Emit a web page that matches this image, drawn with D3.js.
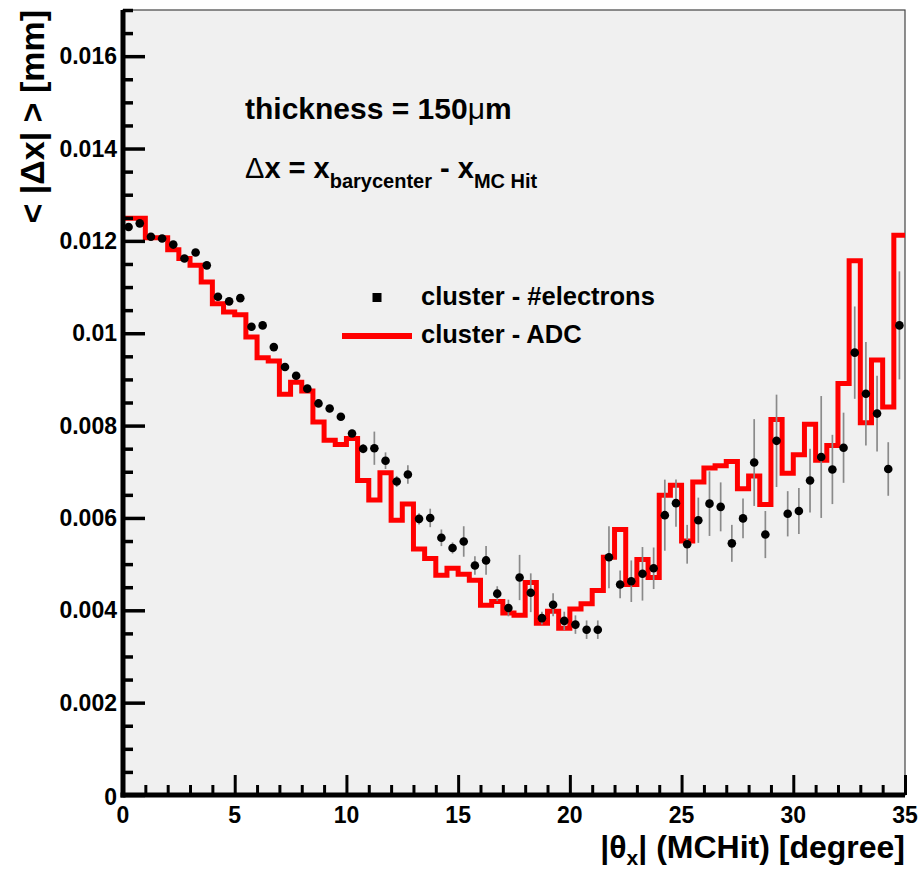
<!DOCTYPE html>
<html>
<head>
<meta charset="utf-8">
<script src="https://cdn.jsdelivr.net/npm/d3@7"></script>
<style>
  body { margin: 0; background: #fff; }
  text { font-family: "Liberation Sans", Arial, sans-serif; font-weight: bold; fill: #000; }
</style>
</head>
<body>
<div class="chart-container"></div>
<script>
// theta bins: 0 .. 35 degree, 0.5 degree wide
let binWidth = 0.5
let nBins = 70

// <|dx|> for cluster - #electrons (points with errors)
let electrons = [
    0.01230, 0.01238, 0.01209, 0.01205, 0.01192, 0.01162, 0.01175, 0.01147, 0.01079, 0.01069,
    0.01076, 0.01014, 0.01017, 0.00970, 0.00927, 0.00908, 0.00880, 0.00848, 0.00837, 0.00819,
    0.00783, 0.00750, 0.00751, 0.00724, 0.00679, 0.00694, 0.00598, 0.00600, 0.00557, 0.00535,
    0.00549, 0.00497, 0.00508, 0.00436, 0.00405, 0.00471, 0.00438, 0.00383, 0.00412, 0.00377,
    0.00369, 0.00358, 0.00358, 0.00515, 0.00456, 0.00463, 0.00479, 0.00491, 0.00606, 0.00632,
    0.00543, 0.00595, 0.00631, 0.00624, 0.00545, 0.00599, 0.00720, 0.00564, 0.00767, 0.00609,
    0.00615, 0.00681, 0.00732, 0.00705, 0.00752, 0.00958, 0.00869, 0.00826, 0.00706, 0.01017
]

let electronErrors = [
    0.00005, 0.00005, 0.00005, 0.00005, 0.00005, 0.00005, 0.00005, 0.00005, 0.00005, 0.00005,
    0.00005, 0.00008, 0.00008, 0.00008, 0.00008, 0.00008, 0.00008, 0.00008, 0.00008, 0.00008,
    0.00008, 0.00010, 0.00036, 0.00018, 0.00012, 0.00020, 0.00012, 0.00020, 0.00018, 0.00012,
    0.00033, 0.00020, 0.00031, 0.00016, 0.00018, 0.00049, 0.00042, 0.00014, 0.00025, 0.00020,
    0.00020, 0.00020, 0.00020, 0.00067, 0.00030, 0.00045, 0.00058, 0.00045, 0.00077, 0.00051,
    0.00042, 0.00049, 0.00070, 0.00053, 0.00040, 0.00043, 0.00094, 0.00051, 0.00100, 0.00049,
    0.00050, 0.00069, 0.00132, 0.00075, 0.00076, 0.00100, 0.00112, 0.00082, 0.00058, 0.00117
]

// <|dx|> for cluster - ADC (histogram)
let adc = [
    0.01249, 0.01249, 0.01207, 0.01207, 0.01181, 0.01162, 0.01147, 0.01111, 0.01064, 0.01046,
    0.01040, 0.00992, 0.00947, 0.00940, 0.00868, 0.00894, 0.00875, 0.00808, 0.00768, 0.00759,
    0.00772, 0.00681, 0.00639, 0.00698, 0.00595, 0.00630, 0.00533, 0.00512, 0.00476, 0.00491,
    0.00478, 0.00465, 0.00411, 0.00419, 0.00394, 0.00389, 0.00460, 0.00372, 0.00398, 0.00361,
    0.00403, 0.00414, 0.00443, 0.00515, 0.00575, 0.00456, 0.00510, 0.00471, 0.00649, 0.00671,
    0.00550, 0.00678, 0.00708, 0.00713, 0.00722, 0.00663, 0.00691, 0.00629, 0.00813, 0.00697,
    0.00737, 0.00803, 0.00725, 0.00757, 0.00891, 0.01157, 0.00806, 0.00942, 0.00840, 0.01212
]

let xTicks = [0, 5, 10, 15, 20, 25, 30, 35]
let yTicks = [0, 0.002, 0.004, 0.006, 0.008, 0.01, 0.012, 0.014, 0.016]
let yTickLabels = ["0", "0.002", "0.004", "0.006", "0.008", "0.01", "0.012", "0.014", "0.016"]
let legendLabels = ["cluster - #electrons", "cluster - ADC"]

// Margin Convention
const margin = { top: 10, right: 14, bottom: 74, left: 123 }
const width = 919 - margin.left - margin.right
const height = 869 - margin.top - margin.bottom

const xScale = d3.scaleLinear().domain([0, 35]).range([0, width])
const yScale = d3.scaleLinear().domain([0, 0.017]).range([height, 0])

const svg = d3.select('.chart-container')
    .append('svg')
    .attr('width', 919)
    .attr('height', 869)

const g = svg.append('g')
    .attr('transform', `translate(${margin.left}, ${margin.top})`)

// frame
g.append('rect')
    .attr('width', width)
    .attr('height', height)
    .attr('fill', '#f0f0f0')
    .attr('stroke', '#444')
    .attr('stroke-width', 1.2)

g.append('clipPath').attr('id', 'clip')
    .append('rect').attr('width', width).attr('height', height)

// data prep
const bins = d3.range(nBins).map(i => ({
    lo: i * binWidth,
    hi: (i + 1) * binWidth,
    mid: (i + 0.5) * binWidth,
    el: electrons[i],
    err: electronErrors[i],
    adc: adc[i]
}))

// ADC histogram as a step outline
const stepPts = []
bins.forEach(d => {
    stepPts.push([d.lo, d.adc])
    stepPts.push([d.hi, d.adc])
})

const line = d3.line()
    .x(d => xScale(d[0]))
    .y(d => yScale(d[1]))

g.append('path')
    .datum(stepPts)
    .attr('clip-path', 'url(#clip)')
    .attr('d', line)
    .attr('fill', 'none')
    .attr('stroke', '#ff0000')
    .attr('stroke-width', 5)
    .attr('stroke-linejoin', 'miter')

// electrons: error bars + markers
const pts = g.append('g').attr('class', 'points')

pts.selectAll('.err')
    .data(bins)
    .join('line')
    .attr('class', 'err')
    .attr('x1', d => xScale(d.mid))
    .attr('x2', d => xScale(d.mid))
    .attr('y1', d => yScale(d.el - d.err))
    .attr('y2', d => yScale(d.el + d.err))
    .attr('stroke', '#8a8a8a')
    .attr('stroke-width', 1.7)

pts.selectAll('.dot')
    .data(bins)
    .join('circle')
    .attr('class', 'dot')
    .attr('cx', d => xScale(d.mid))
    .attr('cy', d => yScale(d.el))
    .attr('r', 4.3)
    .attr('fill', '#000')

// Axes (ROOT style: ticks inside)
const xAxis = d3.axisTop(xScale)
    .tickValues(d3.range(0, 36, 1))
    .tickFormat('')
    .tickSizeInner(0)
    .tickSizeOuter(0)

const xAxisDraw = g.append('g')
    .attr('class', 'x axis')
    .attr('transform', `translate(0, ${height})`)
    .call(xAxis)

xAxisDraw.selectAll('.tick line')
    .attr('y2', d => (d % 5 === 0 ? -20 : -10))
    .attr('stroke', '#000')
    .attr('stroke-width', 3)
xAxisDraw.select('.domain').remove()

const yAxis = d3.axisRight(yScale)
    .tickValues(d3.range(0, 0.0171, 0.0005))
    .tickFormat('')
    .tickSizeInner(0)
    .tickSizeOuter(0)

const yAxisDraw = g.append('g')
    .attr('class', 'y axis')
    .call(yAxis)

yAxisDraw.selectAll('.tick line')
    .attr('x2', d => (Math.round(d * 10000) % 20 === 0 ? 22 : 10))
    .attr('stroke', '#000')
    .attr('stroke-width', 3.5)
yAxisDraw.select('.domain').remove()

// heavy axis lines
g.append('line')
    .attr('x1', 0).attr('x2', 0)
    .attr('y1', 0).attr('y2', height + 2.5)
    .attr('stroke', '#000').attr('stroke-width', 5)
g.append('line')
    .attr('x1', -2.5).attr('x2', width)
    .attr('y1', height).attr('y2', height)
    .attr('stroke', '#000').attr('stroke-width', 5)

// tick labels
g.selectAll('.xlab')
    .data(xTicks)
    .join('text')
    .attr('class', 'xlab')
    .attr('x', d => xScale(d))
    .attr('y', height + 28)
    .attr('text-anchor', 'middle')
    .attr('font-size', 23)
    .text(d => d)

g.selectAll('.ylab')
    .data(yTicks)
    .join('text')
    .attr('class', 'ylab')
    .attr('x', -6)
    .attr('y', (d, i) => yScale(d) + (i === 0 ? 10 : 8))
    .attr('text-anchor', 'end')
    .attr('font-size', 23)
    .text((d, i) => yTickLabels[i])

// axis titles
const xTitle = svg.append('text')
    .attr('x', 905)
    .attr('y', 858)
    .attr('text-anchor', 'end')
    .attr('font-size', 32)
xTitle.append('tspan').text('|θ')
xTitle.append('tspan').attr('font-size', 21).attr('dy', 7).text('x')
xTitle.append('tspan').attr('dy', -7).text('| (MCHit) [degree]')

svg.append('text')
    .attr('transform', 'translate(44, 10) rotate(-90)')
    .attr('text-anchor', 'end')
    .attr('font-size', 34)
    .text('< |Δx| > [mm]')

// annotations
const t1 = svg.append('text')
    .attr('x', 245)
    .attr('y', 119)
    .attr('font-size', 30)
t1.append('tspan').text('thickness = 150')
t1.append('tspan').attr('font-weight', 'normal').text('μ')
t1.append('tspan').text('m')

const t2 = svg.append('text')
    .attr('x', 245)
    .attr('y', 178)
    .attr('font-size', 29)
t2.append('tspan').attr('font-weight', 'normal').text('Δ')
t2.append('tspan').text('x = x')
t2.append('tspan').attr('font-size', 20).attr('dy', 10).text('barycenter')
t2.append('tspan').attr('dy', -10).text(' - x')
t2.append('tspan').attr('font-size', 20).attr('dy', 10).text('MC Hit')

// Legend
const legend = svg.append('g').attr('class', 'legend')

legend.append('rect')
    .attr('x', 372.5).attr('y', 293)
    .attr('width', 9).attr('height', 9)
    .attr('fill', '#000')

legend.append('line')
    .attr('x1', 342).attr('x2', 412)
    .attr('y1', 336).attr('y2', 336)
    .attr('stroke', '#ff0000').attr('stroke-width', 6)

legend.selectAll('.leg')
    .data(legendLabels)
    .join('text')
    .attr('class', 'leg')
    .attr('x', 421)
    .attr('y', (d, i) => 305 + i * 38)
    .attr('font-size', 25.5)
    .text(d => d)
</script>
</body>
</html>
